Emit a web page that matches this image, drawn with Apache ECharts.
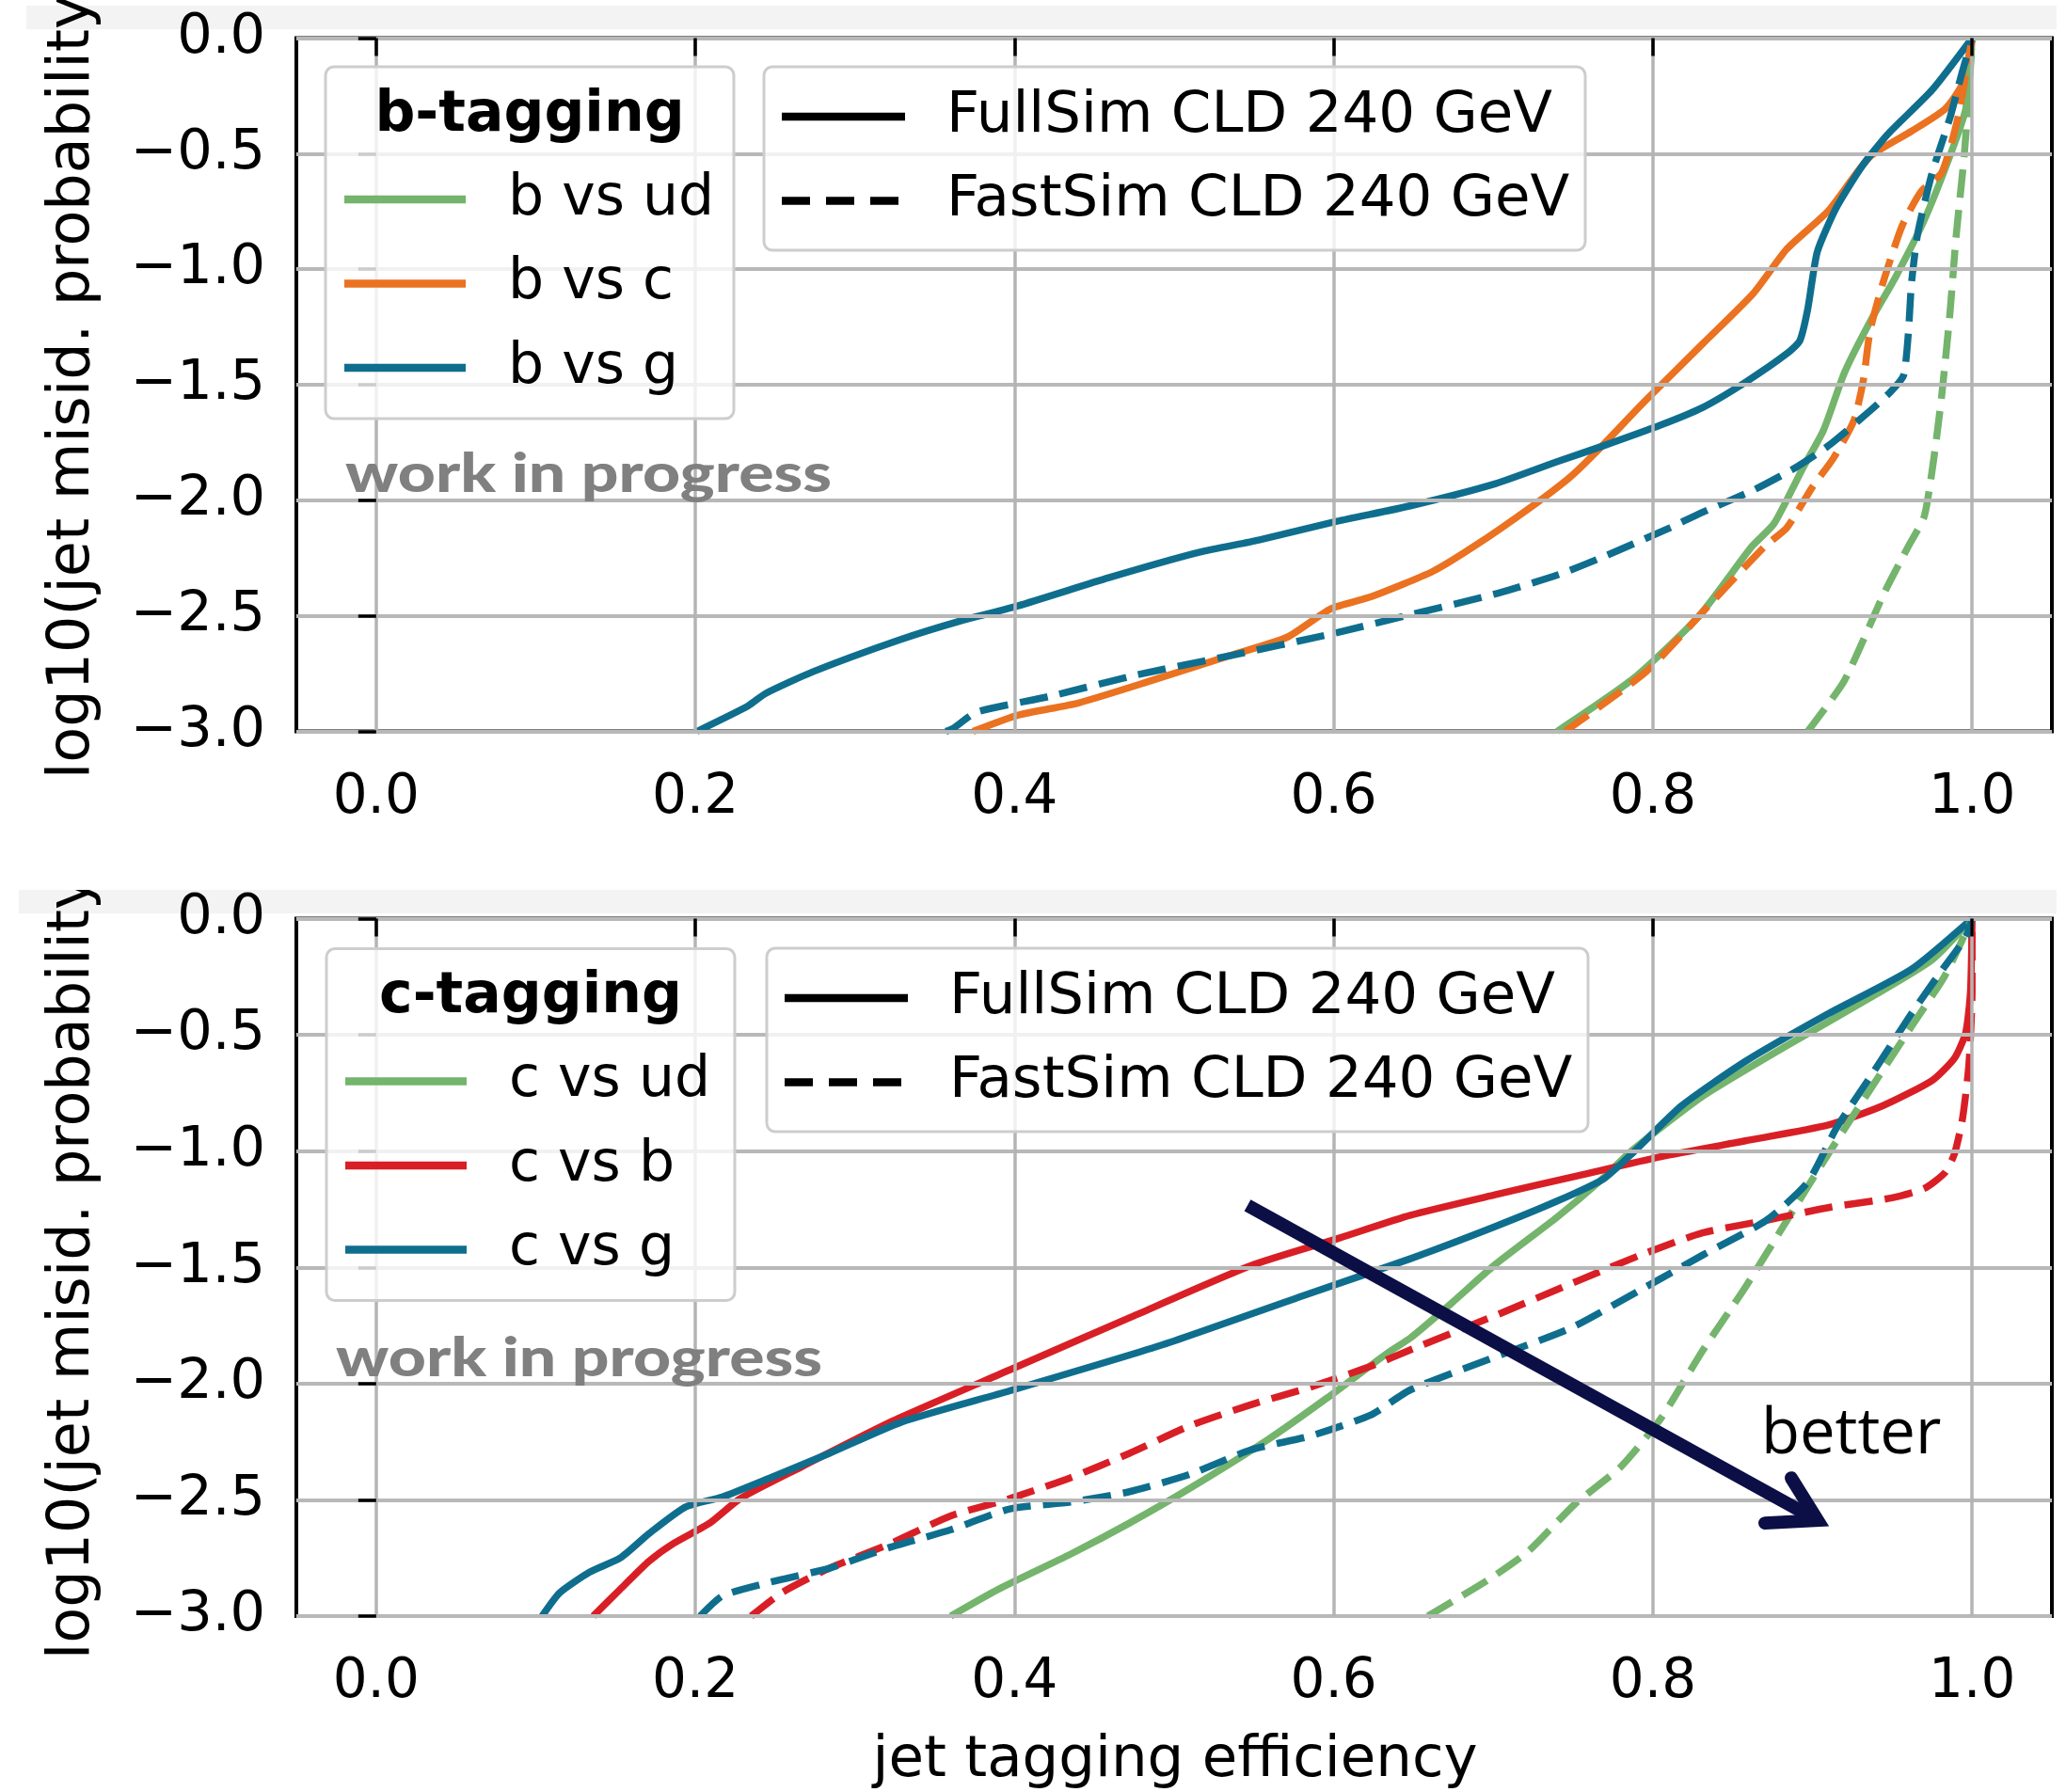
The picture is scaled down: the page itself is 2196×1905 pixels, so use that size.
<!DOCTYPE html>
<html>
<head>
<meta charset="utf-8">
<script src="https://cdn.jsdelivr.net/npm/echarts@6/dist/echarts.min.js"></script>
<style>html,body{margin:0;padding:0;background:#fff}#c{width:2196px;height:1905px}</style>
</head>
<body>
<div id="c"></div>
<script>
// ---------- tick values / labels ----------
const xTicks = [0, 0.2, 0.4, 0.6, 0.8, 1.0];
const xTickLabels = ['0.0', '0.2', '0.4', '0.6', '0.8', '1.0'];
const yTickLabels = ['0.0', '\u22120.5', '\u22121.0', '\u22121.5', '\u22122.0', '\u22122.5', '\u22123.0'];

// ---------- top panel: b-tagging (x = efficiency, y = log10 misid) ----------
const bVsUdFull = [[0.740,-3.0],[0.788,-2.77],[0.829,-2.50],[0.862,-2.20],[0.876,-2.10],[0.894,-1.86],[0.907,-1.695],[0.920,-1.448],[0.936,-1.228],[0.952,-1.035],[0.970,-0.788],[0.986,-0.512],[0.996,-0.307],[1.0,0]];
const bVsCFull = [[0.374,-3.0],[0.402,-2.93],[0.440,-2.877],[0.485,-2.782],[0.534,-2.674],[0.571,-2.592],[0.598,-2.47],[0.624,-2.416],[0.662,-2.308],[0.688,-2.199],[0.722,-2.037],[0.748,-1.90],[0.766,-1.78],[0.795,-1.571],[0.831,-1.324],[0.863,-1.104],[0.884,-0.912],[0.910,-0.747],[0.936,-0.513],[0.962,-0.403],[0.983,-0.307],[0.994,-0.197],[1.0,0]];
const bVsGFull = [[0.201,-3.0],[0.233,-2.89],[0.244,-2.836],[0.274,-2.741],[0.327,-2.606],[0.365,-2.524],[0.402,-2.457],[0.459,-2.335],[0.515,-2.226],[0.553,-2.172],[0.602,-2.091],[0.648,-2.024],[0.701,-1.929],[0.740,-1.833],[0.769,-1.764],[0.805,-1.674],[0.831,-1.599],[0.858,-1.489],[0.884,-1.365],[0.892,-1.31],[0.897,-1.173],[0.903,-0.925],[0.915,-0.733],[0.931,-0.555],[0.947,-0.417],[0.975,-0.224],[1.0,0]];
const bVsUdFast = [[0.897,-3.0],[0.920,-2.78],[0.945,-2.40],[0.960,-2.20],[0.970,-2.07],[0.976,-1.82],[0.981,-1.544],[0.986,-1.2],[0.990,-0.857],[0.995,-0.513],[0.998,-0.238],[1.0,0]];
const bVsCFast = [[0.745,-3.0],[0.796,-2.74],[0.837,-2.44],[0.870,-2.20],[0.884,-2.118],[0.900,-1.942],[0.913,-1.819],[0.926,-1.654],[0.932,-1.475],[0.936,-1.269],[0.944,-1.063],[0.956,-0.815],[0.968,-0.664],[0.981,-0.582],[0.991,-0.348],[1.0,0]];
const bVsGFast = [[0.357,-3.0],[0.362,-2.985],[0.376,-2.917],[0.421,-2.85],[0.477,-2.755],[0.534,-2.674],[0.598,-2.579],[0.647,-2.497],[0.703,-2.402],[0.741,-2.321],[0.766,-2.253],[0.811,-2.118],[0.831,-2.052],[0.863,-1.956],[0.889,-1.86],[0.910,-1.764],[0.936,-1.613],[0.949,-1.53],[0.957,-1.461],[0.960,-1.283],[0.962,-1.063],[0.966,-0.843],[0.975,-0.582],[0.986,-0.348],[0.994,-0.142],[1.0,0]];

// ---------- bottom panel: c-tagging ----------
const cVsUdFull = [[0.360,-3.0],[0.390,-2.884],[0.435,-2.734],[0.472,-2.60],[0.510,-2.45],[0.559,-2.24],[0.596,-2.061],[0.634,-1.867],[0.648,-1.804],[0.674,-1.653],[0.701,-1.489],[0.740,-1.284],[0.766,-1.134],[0.787,-0.997],[0.831,-0.765],[0.884,-0.546],[0.936,-0.341],[0.975,-0.177],[1.0,0]];
const cVsBFull = [[0.136,-3.0],[0.153,-2.884],[0.171,-2.764],[0.186,-2.689],[0.209,-2.60],[0.228,-2.495],[0.266,-2.36],[0.322,-2.166],[0.397,-1.941],[0.472,-1.717],[0.548,-1.493],[0.604,-1.373],[0.648,-1.276],[0.701,-1.188],[0.753,-1.106],[0.805,-1.024],[0.858,-0.956],[0.910,-0.888],[0.944,-0.805],[0.975,-0.696],[0.989,-0.60],[0.996,-0.491],[0.999,-0.313],[1.0,0]];
const cVsGFull = [[0.104,-3.0],[0.115,-2.90],[0.134,-2.81],[0.153,-2.75],[0.171,-2.645],[0.194,-2.53],[0.217,-2.487],[0.247,-2.405],[0.284,-2.30],[0.329,-2.166],[0.397,-2.031],[0.491,-1.837],[0.585,-1.612],[0.648,-1.463],[0.701,-1.325],[0.740,-1.215],[0.769,-1.12],[0.787,-1.01],[0.818,-0.805],[0.858,-0.614],[0.910,-0.409],[0.962,-0.218],[1.0,0]];
const cVsUdFast = [[0.659,-3.0],[0.697,-2.843],[0.722,-2.721],[0.751,-2.519],[0.780,-2.357],[0.805,-2.15],[0.831,-1.86],[0.858,-1.585],[0.884,-1.298],[0.910,-1.011],[0.936,-0.737],[0.962,-0.464],[0.983,-0.245],[1.0,0]];
const cVsBFast = [[0.235,-3.0],[0.254,-2.90],[0.284,-2.794],[0.322,-2.689],[0.360,-2.569],[0.397,-2.495],[0.435,-2.405],[0.472,-2.30],[0.510,-2.181],[0.548,-2.091],[0.585,-2.016],[0.623,-1.926],[0.648,-1.855],[0.701,-1.708],[0.753,-1.558],[0.792,-1.448],[0.831,-1.352],[0.871,-1.298],[0.910,-1.243],[0.949,-1.202],[0.970,-1.161],[0.983,-1.093],[0.989,-1.011],[0.994,-0.86],[0.998,-0.628],[1.0,-0.313],[1.0,0]];
const cVsGFast = [[0.203,-3.0],[0.217,-2.913],[0.247,-2.854],[0.284,-2.794],[0.322,-2.704],[0.360,-2.629],[0.397,-2.539],[0.435,-2.51],[0.472,-2.465],[0.510,-2.39],[0.548,-2.285],[0.585,-2.226],[0.623,-2.136],[0.648,-2.027],[0.701,-1.886],[0.748,-1.763],[0.792,-1.598],[0.831,-1.448],[0.871,-1.298],[0.897,-1.134],[0.915,-0.901],[0.936,-0.683],[0.962,-0.409],[0.983,-0.204],[0.996,-0.081],[1.0,0]];

// annotation arrow ("better") in bottom-panel data coordinates
const arrowStart = [0.546, -1.233];
const arrowTip = [0.9032, -2.588];
const arrowBarbA = [0.8867, -2.406];
const arrowBarbB = [0.8702, -2.600];
const betterAt = [0.8678, -2.224];

// ---------- style ----------
const GREEN = '#74b46c', ORANGE = '#ea7220', BLUE = '#0f6e8e', RED = '#d91f26', NAVY = '#0b0f46';
const FONT = 'DejaVu Sans';
const DASH = [30, 13];
const LW = 7.5;

const chart = echarts.init(document.getElementById('c'), null, {renderer: 'canvas', width: 2196, height: 1905});

function xAxisFor(gi) {
  return {
    type: 'value', gridIndex: gi, min: -0.05, max: 1.05, z: 5,
    axisLine: {show: false},
    axisTick: {show: true, length: 19, customValues: xTicks, lineStyle: {color: '#000', width: 3.5}},
    axisLabel: {show: true, customValues: xTicks, margin: 42, fontFamily: FONT, fontSize: 58, color: '#000',
      formatter: v => xTickLabels[Math.round(v * 5)]},
    splitLine: {show: true, lineStyle: {color: '#b4b4b4', width: 3.5}}
  };
}
function yAxisFor(gi) {
  return {
    type: 'value', gridIndex: gi, min: -3, max: 0, interval: 0.5, z: 5,
    axisLine: {show: false},
    axisTick: {show: true, length: 19, lineStyle: {color: '#000', width: 3.5}},
    axisLabel: {show: true, margin: 33, fontFamily: FONT, fontSize: 59, color: '#000',
      formatter: v => yTickLabels[Math.round(-v / 0.5)]},
    splitLine: {show: true, lineStyle: {color: '#b8b8b8', width: 4}}
  };
}
function line(name, data, color, dashed, gi) {
  return {
    name, type: 'line', data, xAxisIndex: gi, yAxisIndex: gi,
    showSymbol: false, symbol: 'none', smooth: 0.2, clip: true,
    lineStyle: {color, width: LW, type: dashed ? DASH : 'solid', cap: 'butt', join: 'round'},
    emphasis: {disabled: true}
  };
}

const option = {
  animation: false,
  backgroundColor: '#fff',
  grid: [
    {left: 315, right: 15, top: 40.5, height: 737, show: true, borderColor: '#000', borderWidth: 4, backgroundColor: 'transparent'},
    {left: 315, right: 15, top: 976.5, height: 741.5, show: true, borderColor: '#000', borderWidth: 4, backgroundColor: 'transparent'}
  ],
  xAxis: [xAxisFor(0), xAxisFor(1)],
  yAxis: [yAxisFor(0), yAxisFor(1)],
  series: [
    line('b vs ud', bVsUdFull, GREEN, false, 0),
    line('b vs c', bVsCFull, ORANGE, false, 0),
    line('b vs g', bVsGFull, BLUE, false, 0),
    line('b vs ud fast', bVsUdFast, GREEN, true, 0),
    line('b vs c fast', bVsCFast, ORANGE, true, 0),
    line('b vs g fast', bVsGFast, BLUE, true, 0),
    line('c vs ud', cVsUdFull, GREEN, false, 1),
    line('c vs b', cVsBFull, RED, false, 1),
    line('c vs g', cVsGFull, BLUE, false, 1),
    line('c vs ud fast', cVsUdFast, GREEN, true, 1),
    line('c vs b fast', cVsBFast, RED, true, 1),
    line('c vs g fast', cVsGFast, BLUE, true, 1)
  ]
};
chart.setOption(option);

// ---------- graphics: legends, labels, annotation ----------
function txt(x, y, text, o) {
  o = o || {};
  return {
    type: 'text', x, y, rotation: o.rotation || 0, z: o.z || 20,
    scaleX: o.scaleX || 1,
    style: {
      text, fill: o.fill || '#000',
      font: (o.weight || 'normal') + ' ' + (o.size || 60) + 'px "' + (o.family || FONT) + '"',
      align: o.align || 'left', verticalAlign: o.va || 'middle',
      textAlign: o.align || 'left', textVerticalAlign: o.va || 'middle'
    }
  };
}
function box(x, y, w, h) {
  return {type: 'rect', z: 15, shape: {x, y, width: w, height: h, r: 9},
    style: {fill: 'rgba(255,255,255,0.8)', stroke: '#cdcdcd', lineWidth: 3}};
}
function sample(x1, x2, y, color, dash) {
  const st = {stroke: color, lineWidth: 8.5};
  if (dash) st.lineDash = dash;
  return {type: 'line', z: 16, shape: {x1, y1: y, x2, y2: y}, style: st};
}
function classLegend(bx, by, title, names, colors) {
  const els = [box(bx, by, 434, 374)];
  els.push(txt(bx + 217, by + 52, title, {weight: 'bold', size: 60, align: 'center'}));
  for (let i = 0; i < 3; i++) {
    const yy = by + 141 + i * 89.5;
    els.push(sample(bx + 20, bx + 149, yy, colors[i]));
    els.push(txt(bx + 194, yy, names[i], {}));
  }
  return els;
}
function simLegend(bx, by) {
  return [
    box(bx, by, 873, 195),
    sample(bx + 19, bx + 150, by + 53, '#000'),
    txt(bx + 194, by + 53, 'FullSim CLD 240 GeV', {size: 61}),
    sample(bx + 19, bx + 150, by + 142.5, '#000', [30, 17]),
    txt(bx + 194, by + 142.5, 'FastSim CLD 240 GeV', {size: 61})
  ];
}

const p = v => chart.convertToPixel({gridIndex: 1}, v);
const tip = p(arrowTip), st = p(arrowStart), ba = p(arrowBarbA), bb = p(arrowBarbB), bt = p(betterAt);

const yLabel = 'log10(jet misid. probability)';
const graphics = [
  // light screenshot bands at the top of each panel (behind tick labels)
  {type: 'rect', z: -1, shape: {x: 28, y: 6, width: 2158, height: 25}, style: {fill: '#f3f3f3'}},
  {type: 'rect', z: -1, shape: {x: 20, y: 946, width: 2166, height: 25}, style: {fill: '#f3f3f3'}},
  // y-axis titles (rotated)
  txt(78, 828, yLabel, {rotation: Math.PI / 2, size: 62, align: 'left', z: 5}),
  txt(78, 1764, yLabel, {rotation: Math.PI / 2, size: 62, align: 'left', z: 5}),
  {type: 'rect', z: 6, shape: {x: 20, y: 880, width: 110, height: 66}, style: {fill: '#fff'}},
  // x-axis title
  txt(1249, 1872, 'jet tagging efficiency', {size: 61, align: 'center'}),
  // watermarks
  txt(367, 504, 'work in progress', {weight: 900, size: 58, family: 'Lato', fill: '#808080', scaleX: 1.2}),
  txt(357, 1444, 'work in progress', {weight: 900, size: 58, family: 'Lato', fill: '#808080', scaleX: 1.2}),
  // annotation arrow
  {type: 'line', z: 30, shape: {x1: st[0], y1: st[1], x2: tip[0], y2: tip[1]},
    style: {stroke: NAVY, lineWidth: 14, lineCap: 'butt'}},
  {type: 'polyline', z: 30, shape: {points: [ba, tip, bb]},
    style: {stroke: NAVY, lineWidth: 14, lineCap: 'round', lineJoin: 'miter', fill: null}},
  txt(bt[0], bt[1], 'better', {size: 67, family: 'Open Sans', align: 'left'})
]
  .concat(classLegend(346, 71, 'b-tagging', ['b vs ud', 'b vs c', 'b vs g'], [GREEN, ORANGE, BLUE]))
  .concat(simLegend(812, 71))
  .concat(classLegend(347, 1008.5, 'c-tagging', ['c vs ud', 'c vs b', 'c vs g'], [GREEN, RED, BLUE]))
  .concat(simLegend(815, 1008));

chart.setOption({graphic: {elements: graphics}});
</script>
</body>
</html>
